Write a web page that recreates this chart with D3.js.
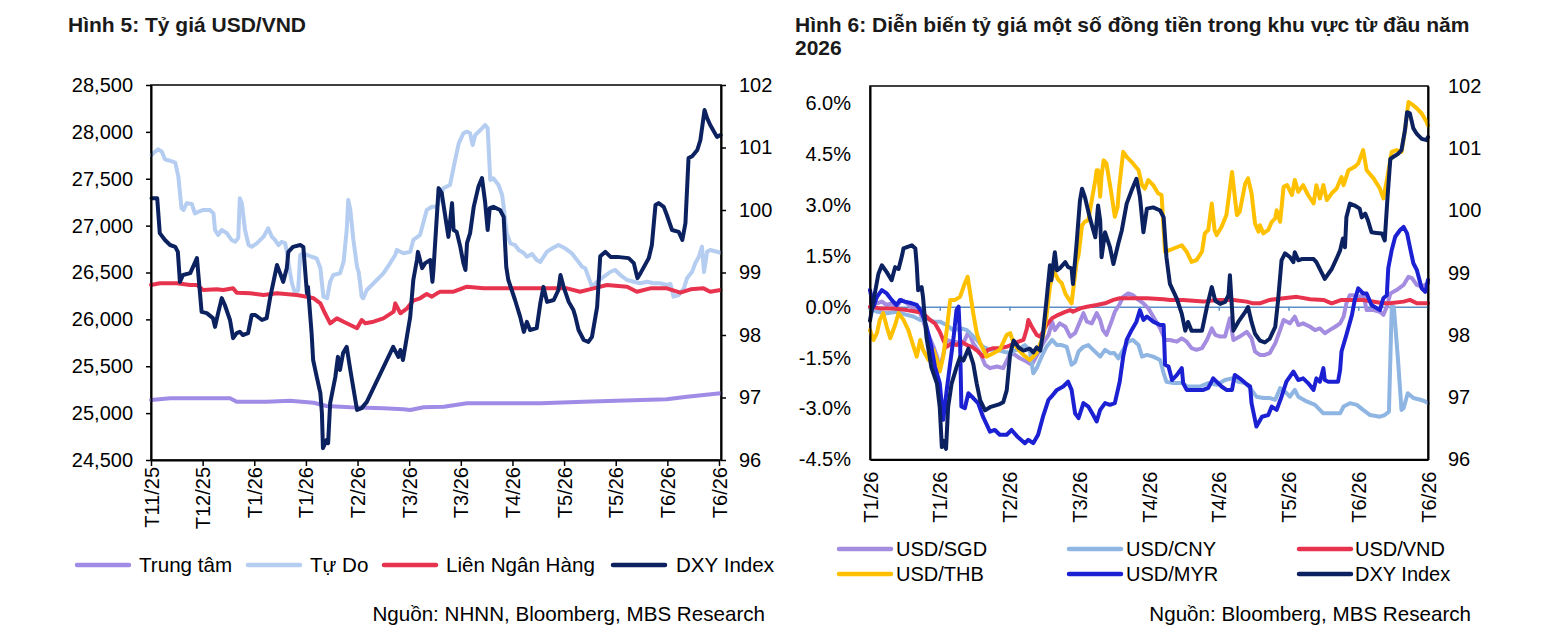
<!DOCTYPE html>
<html>
<head>
<meta charset="utf-8">
<script src="https://cdn.jsdelivr.net/npm/d3@7"></script>
<style>
  body { margin: 0; background: #fff; }
  text { font-family: Arial, "Liberation Sans", sans-serif; }
  text.title { font-weight: bold; fill: #1a1a1a; }
</style>
</head>
<body>
<svg id="chart" width="1547" height="642"></svg>
<script>
// ---- Hình 5 data: x = position in tick intervals ----
const leftTicks = ['T11/25', 'T12/25', 'T1/26', 'T1/26', 'T2/26', 'T3/26', 'T3/26', 'T4/26', 'T5/26', 'T5/26', 'T6/26', 'T6/26'];

const trungTam = [[0,25140],[0.37,25158],[0.95,25158],[1.53,25158],[1.66,25122],[2.24,25122],[2.69,25132],[3.15,25111],[3.4,25076],[3.86,25062],[4.5,25051],[4.89,25041],[5.02,25033],[5.28,25062],[5.67,25069],[6.12,25105],[6.76,25105],[7.54,25105],[8.38,25122],[9.02,25132],[9.99,25147],[10.38,25175],[11.03,25211]];

const tuDo = [[0.01,27753],[0.08,27789],[0.14,27814],[0.21,27789],[0.27,27707],[0.37,27692],[0.47,27671],[0.53,27522],[0.59,27185],[0.63,27167],[0.69,27238],[0.79,27231],[0.85,27131],[0.92,27148],[1.01,27167],[1.14,27167],[1.21,27131],[1.24,26953],[1.3,26900],[1.37,26953],[1.47,26918],[1.56,26847],[1.63,26828],[1.69,26868],[1.72,27291],[1.76,27238],[1.82,26953],[1.89,26793],[1.95,26775],[2.05,26811],[2.18,26882],[2.27,26971],[2.34,26882],[2.4,26847],[2.47,26793],[2.53,26828],[2.6,26811],[2.63,26722],[2.69,26508],[2.73,26385],[2.79,26278],[2.85,26313],[2.89,26687],[2.95,26705],[3.11,26668],[3.21,26651],[3.28,26545],[3.31,26385],[3.34,26242],[3.41,26225],[3.47,26402],[3.53,26473],[3.66,26491],[3.73,26615],[3.79,26953],[3.82,27273],[3.86,27167],[3.92,26847],[3.99,26562],[4.02,26508],[4.05,26385],[4.08,26242],[4.11,26225],[4.18,26313],[4.31,26385],[4.5,26491],[4.63,26598],[4.73,26687],[4.76,26740],[4.89,26705],[5.02,26722],[5.08,26847],[5.21,26900],[5.34,27167],[5.44,27202],[5.54,27202],[5.66,27398],[5.79,27433],[5.89,27700],[5.96,27878],[6.05,27985],[6.12,28002],[6.18,27985],[6.23,27860],[6.28,27967],[6.38,28020],[6.47,28073],[6.52,28038],[6.57,27487],[6.63,27505],[6.73,27433],[6.8,27327],[6.83,27202],[6.89,26918],[6.96,26811],[7.05,26793],[7.12,26740],[7.22,26708],[7.28,26668],[7.38,26697],[7.47,26633],[7.54,26612],[7.6,26665],[7.67,26722],[7.77,26758],[7.89,26793],[8.02,26758],[8.15,26705],[8.25,26633],[8.35,26562],[8.41,26545],[8.54,26349],[8.64,26402],[8.77,26455],[8.9,26508],[8.99,26527],[9.09,26473],[9.22,26420],[9.35,26402],[9.48,26385],[9.61,26402],[9.73,26385],[9.86,26385],[9.99,26367],[10.06,26377],[10.12,26242],[10.22,26260],[10.32,26331],[10.38,26438],[10.48,26508],[10.54,26598],[10.61,26668],[10.67,26775],[10.71,26505],[10.77,26722],[10.83,26740],[10.96,26722],[11.03,26711]];

const lienNganHang = [[0,26367],[0.17,26385],[0.5,26385],[0.76,26367],[0.89,26367],[1.01,26313],[1.27,26321],[1.4,26313],[1.59,26331],[1.66,26285],[1.92,26278],[2.18,26260],[2.44,26278],[2.82,26260],[3.02,26242],[3.15,26225],[3.28,26171],[3.37,26065],[3.47,25958],[3.6,26011],[3.73,25975],[3.86,25940],[3.99,25905],[4.08,25993],[4.15,25958],[4.31,25975],[4.5,26011],[4.7,26082],[4.73,26171],[4.83,26065],[4.96,26118],[5.08,26201],[5.21,26225],[5.34,26271],[5.44,26242],[5.54,26278],[5.6,26295],[5.86,26295],[6.12,26349],[6.44,26331],[6.96,26331],[7.41,26331],[8.06,26331],[8.31,26295],[8.57,26331],[8.83,26367],[9.22,26349],[9.41,26295],[9.67,26331],[9.99,26331],[10.25,26285],[10.45,26321],[10.7,26331],[10.83,26295],[11.03,26313]];

const dxyLeft = [[0.01,100.19],[0.12,100.19],[0.17,99.63],[0.27,99.52],[0.37,99.44],[0.47,99.41],[0.52,99.33],[0.56,98.85],[0.62,98.96],[0.76,98.99],[0.89,99.23],[0.98,98.37],[1.08,98.35],[1.2,98.27],[1.24,98.13],[1.3,98.35],[1.37,98.59],[1.43,98.48],[1.53,98.24],[1.59,97.95],[1.66,98.03],[1.72,98.05],[1.78,98],[1.88,98.03],[1.95,98.32],[2.02,98.32],[2.15,98.24],[2.24,98.27],[2.31,98.61],[2.44,99.12],[2.5,98.99],[2.56,98.85],[2.63,99.07],[2.66,99.33],[2.75,99.41],[2.89,99.44],[2.95,99.41],[2.98,99.09],[3.02,98.67],[3.04,98.77],[3.11,98.03],[3.14,97.6],[3.21,97.33],[3.28,97.07],[3.31,96.75],[3.33,96.19],[3.4,96.32],[3.43,96.27],[3.47,96.91],[3.57,97.33],[3.62,97.65],[3.66,97.44],[3.72,97.71],[3.79,97.81],[3.86,97.44],[3.99,96.8],[4.08,96.83],[4.18,96.93],[4.69,97.81],[4.79,97.65],[4.83,97.76],[4.88,97.6],[5.02,98.29],[5.08,98.88],[5.15,99.2],[5.17,99.33],[5.25,99.07],[5.31,99.15],[5.41,99.2],[5.45,98.85],[5.47,99.04],[5.57,100.35],[5.63,100.27],[5.76,99.57],[5.83,100.11],[5.86,99.68],[5.92,99.65],[5.99,99.41],[6.05,99.15],[6.09,99.04],[6.12,99.47],[6.18,99.63],[6.25,100.05],[6.34,100.37],[6.41,100.51],[6.47,100.13],[6.52,99.68],[6.56,100.03],[6.63,100.05],[6.76,100],[6.83,99.89],[6.88,99.09],[6.92,98.88],[7.05,98.56],[7.15,98.29],[7.22,98.05],[7.28,98.21],[7.34,98.08],[7.47,98.11],[7.54,98.51],[7.6,98.77],[7.67,98.53],[7.8,98.56],[7.89,98.72],[7.93,98.96],[7.99,98.77],[8.09,98.53],[8.18,98.4],[8.22,98.29],[8.28,98.08],[8.38,97.92],[8.47,97.89],[8.54,97.97],[8.64,98.45],[8.7,99.26],[8.8,99.33],[8.9,99.25],[9.03,99.25],[9.25,99.23],[9.35,99.15],[9.42,98.91],[9.48,98.99],[9.64,99.23],[9.7,99.44],[9.77,100.08],[9.83,100.11],[9.93,100.05],[9.99,99.92],[10.09,99.68],[10.22,99.65],[10.29,99.52],[10.35,99.79],[10.41,100.83],[10.48,100.86],[10.58,100.96],[10.64,101.12],[10.72,101.6],[10.77,101.47],[10.83,101.36],[10.96,101.17],[11.03,101.2]];

// ---- Hình 6 data: % change since start of 2026 (left axis), DXY level (right axis) ----
const rightTicks = ['T1/26', 'T1/26', 'T2/26', 'T3/26', 'T4/26', 'T4/26', 'T5/26', 'T6/26', 'T6/26'];

const usdSgd = [[0,0],[0.1,0.1],[0.17,0.15],[0.24,0.05],[0.31,0.1],[0.38,0],[0.45,0.2],[0.53,0.1],[0.62,-0.05],[0.72,-0.19],[0.81,-0.69],[0.91,-1.18],[0.96,-1.47],[1,-1.81],[1.05,-1.42],[1.1,-0.98],[1.17,-1.03],[1.24,-1.04],[1.31,-1.13],[1.36,-0.98],[1.41,-0.74],[1.48,-1.08],[1.58,-1.37],[1.65,-1.71],[1.72,-1.81],[1.82,-1.76],[1.91,-1.81],[2.01,-1.37],[2.08,-1.42],[2.15,-1.52],[2.25,-1.62],[2.32,-1.71],[2.41,-1.37],[2.48,-1.08],[2.56,-0.83],[2.61,-0.44],[2.65,-0.69],[2.72,-0.49],[2.8,-0.59],[2.87,-0.88],[2.94,-0.78],[3.01,-0.44],[3.06,-0.19],[3.11,-0.44],[3.18,-0.49],[3.25,-0.19],[3.3,-0.39],[3.34,-0.69],[3.39,-0.83],[3.47,-0.39],[3.51,-0.15],[3.58,0.08],[3.63,0.29],[3.7,0.39],[3.77,0.34],[3.85,0.2],[3.92,0.1],[3.99,-0.05],[4.06,-0.29],[4.16,-0.64],[4.23,-0.98],[4.3,-0.98],[4.4,-1.03],[4.47,-0.93],[4.54,-1.03],[4.61,-1.22],[4.68,-1.27],[4.76,-1.22],[4.83,-0.98],[4.9,-0.64],[4.95,-0.83],[5.02,-0.88],[5.09,-0.88],[5.16,-0.34],[5.21,-0.98],[5.3,-0.88],[5.4,-0.74],[5.47,-0.93],[5.52,-1.32],[5.59,-1.42],[5.66,-1.42],[5.73,-1.37],[5.81,-1.08],[5.88,-0.69],[5.93,-0.39],[6.02,-0.49],[6.09,-0.29],[6.14,-0.54],[6.21,-0.49],[6.31,-0.59],[6.38,-0.69],[6.45,-0.64],[6.52,-0.78],[6.59,-0.69],[6.67,-0.59],[6.74,-0.49],[6.79,-0.29],[6.83,0.1],[6.88,0.34],[6.93,0.34],[7,0.25],[7.07,0.39],[7.12,-0.1],[7.22,-0.1],[7.31,-0.15],[7.36,-0.24],[7.41,0],[7.46,0.39],[7.55,0.49],[7.65,0.64],[7.72,0.88],[7.77,0.84],[7.84,0.64],[7.91,0.59],[8,0.69]];

const usdCny = [[0,-0.05],[0.1,-0.15],[0.24,-0.19],[0.38,-0.15],[0.53,-0.24],[0.62,-0.29],[0.72,-0.39],[0.81,-0.34],[0.91,-0.44],[1,-0.44],[1.1,-0.54],[1.19,-0.69],[1.31,-0.64],[1.39,-0.69],[1.46,-0.83],[1.53,-0.98],[1.62,-1.18],[1.72,-1.27],[1.82,-1.27],[1.91,-1.32],[2.01,-1.37],[2.05,-1.32],[2.15,-1.22],[2.22,-1.13],[2.29,-1.27],[2.34,-1.96],[2.39,-1.81],[2.46,-1.47],[2.53,-1.18],[2.61,-0.98],[2.68,-1.13],[2.75,-1.13],[2.82,-1.18],[2.89,-1.71],[2.94,-1.63],[2.99,-1.32],[3.06,-1.18],[3.13,-1.13],[3.2,-1.27],[3.3,-1.47],[3.37,-1.27],[3.44,-1.37],[3.5,-1.36],[3.56,-1.52],[3.63,-1.27],[3.7,-1.03],[3.77,-0.98],[3.85,-1.13],[3.9,-1.47],[3.97,-1.42],[4.06,-1.47],[4.16,-1.57],[4.21,-1.96],[4.25,-2.21],[4.35,-2.25],[4.49,-2.25],[4.54,-2.35],[4.73,-2.35],[4.85,-2.25],[4.97,-2.3],[5.09,-2.16],[5.19,-2.11],[5.28,-2.21],[5.38,-2.25],[5.45,-2.4],[5.54,-2.65],[5.64,-2.69],[5.73,-2.69],[5.81,-2.74],[5.88,-2.4],[5.95,-2.5],[6.02,-2.65],[6.09,-2.45],[6.14,-2.65],[6.26,-2.79],[6.38,-2.89],[6.5,-3.14],[6.62,-3.14],[6.74,-3.14],[6.79,-2.94],[6.88,-2.84],[6.98,-2.89],[7.07,-3.04],[7.17,-3.19],[7.31,-3.24],[7.38,-3.19],[7.44,-3.09],[7.48,0],[7.51,0],[7.57,-1.57],[7.62,-3.04],[7.65,-2.99],[7.71,-2.55],[7.79,-2.69],[7.89,-2.74],[7.96,-2.79],[8,-2.84]];

const usdVnd = [[0,0],[0.14,-0.05],[0.33,-0.05],[0.53,-0.1],[0.67,-0.15],[0.76,-0.19],[0.86,-0.39],[0.93,-0.49],[1,-0.74],[1.05,-0.98],[1.1,-1.18],[1.17,-1.08],[1.24,-1.13],[1.31,-1.03],[1.39,-1.13],[1.46,-1.18],[1.55,-1.32],[1.62,-1.47],[1.69,-1.27],[1.77,-1.22],[1.86,-1.22],[1.96,-1.18],[2.13,-1.03],[2.2,-0.98],[2.25,-0.64],[2.27,-0.39],[2.32,-0.59],[2.39,-0.83],[2.44,-0.88],[2.48,-0.74],[2.53,-0.54],[2.61,-0.34],[2.7,-0.24],[2.8,-0.15],[2.87,-0.1],[2.91,-0.15],[3.01,-0.05],[3.11,0],[3.25,0.05],[3.37,0.1],[3.49,0.2],[3.58,0.25],[3.77,0.25],[3.97,0.25],[4.21,0.22],[4.3,0.2],[4.49,0.2],[4.78,0.15],[4.97,0.2],[5.21,0.2],[5.4,0.15],[5.49,0.1],[5.59,0.1],[5.73,0.2],[5.93,0.25],[6.12,0.29],[6.31,0.22],[6.5,0.2],[6.62,0.1],[6.76,0.2],[6.88,0.2],[7.07,0.2],[7.36,0.1],[7.45,0.1],[7.65,0.15],[7.74,0.2],[7.84,0.1],[8,0.1]];

const usdThb = [[0,-0.69],[0.05,-0.98],[0.1,-0.78],[0.14,-0.39],[0.19,-0.19],[0.24,-0.59],[0.29,-0.93],[0.36,-0.54],[0.41,-0.19],[0.48,-0.39],[0.55,-0.69],[0.67,-1.47],[0.72,-0.98],[0.76,-1.27],[0.84,-1.57],[0.91,-1.27],[0.96,-1.57],[1,-1.91],[1.05,-1.47],[1.1,-0.69],[1.15,0.2],[1.22,0.2],[1.29,0.29],[1.36,0.69],[1.4,0.88],[1.43,0.49],[1.48,-0.19],[1.53,-0.78],[1.58,-1.08],[1.65,-1.37],[1.67,-1.47],[1.77,-1.37],[1.86,-1.27],[1.96,-0.83],[2.01,-0.78],[2.06,-1.08],[2.13,-1.27],[2.2,-1.42],[2.29,-1.57],[2.34,-1.47],[2.39,-1.36],[2.48,-0.88],[2.53,-0.29],[2.58,0.59],[2.63,1.08],[2.7,0.79],[2.75,0.69],[2.8,0.39],[2.84,0.25],[2.89,0.1],[2.96,1.28],[2.99,1.52],[3.04,2.4],[3.08,2.5],[3.13,2.55],[3.18,3.14],[3.23,3.73],[3.25,4.02],[3.27,4.02],[3.3,3.24],[3.32,3.87],[3.35,4.31],[3.39,4.22],[3.46,3.34],[3.51,2.65],[3.55,2.94],[3.57,3.48],[3.63,4.56],[3.68,4.41],[3.77,4.22],[3.85,4.02],[3.9,3.58],[3.94,3.48],[3.99,3.73],[4.06,3.58],[4.13,3.34],[4.18,3.29],[4.23,1.62],[4.3,1.67],[4.47,1.81],[4.54,1.62],[4.61,1.32],[4.68,1.37],[4.76,1.62],[4.8,2.16],[4.85,2.26],[4.9,3.04],[4.94,2.26],[4.97,2.11],[5.04,2.35],[5.11,2.7],[5.19,3.97],[5.26,2.7],[5.3,2.79],[5.38,3.63],[5.42,3.78],[5.47,3.34],[5.52,2.45],[5.57,2.21],[5.59,2.4],[5.64,2.16],[5.71,2.26],[5.76,2.5],[5.81,2.6],[5.83,2.84],[5.88,2.5],[5.93,3.53],[5.98,3.58],[6.05,3.29],[6.09,3.73],[6.14,3.38],[6.21,3.58],[6.28,3.29],[6.36,3.04],[6.4,3.58],[6.45,3.19],[6.5,3.58],[6.55,3.14],[6.62,3.34],[6.69,3.48],[6.76,3.82],[6.79,3.58],[6.86,4.02],[6.95,4.12],[7,4.22],[7.07,4.61],[7.12,4.02],[7.22,3.78],[7.31,3.48],[7.36,3.19],[7.41,3.73],[7.48,4.56],[7.55,4.61],[7.62,4.56],[7.67,5.2],[7.72,6.03],[7.77,5.96],[7.84,5.84],[7.91,5.69],[7.98,5.44],[8,5.34]];

const usdMyr = [[0,0.49],[0.05,0],[0.1,0.29],[0.17,0.49],[0.24,0.39],[0.31,0.2],[0.38,0.05],[0.43,0.2],[0.5,0.15],[0.6,0.1],[0.67,0.05],[0.74,-0.15],[0.81,-0.59],[0.88,-1.18],[0.93,-1.76],[1,-2.25],[1.05,-3.33],[1.1,-2.45],[1.15,-1.66],[1.2,-0.88],[1.24,-0.1],[1.27,0],[1.29,-0.88],[1.31,-2.94],[1.36,-2.99],[1.41,-2.55],[1.48,-2.69],[1.55,-2.84],[1.62,-3.24],[1.72,-3.68],[1.79,-3.63],[1.86,-3.77],[1.96,-3.77],[2.03,-3.63],[2.11,-3.82],[2.22,-4.02],[2.27,-3.92],[2.34,-4.02],[2.41,-3.77],[2.48,-3.24],[2.56,-2.74],[2.6,-2.65],[2.68,-2.45],[2.77,-2.35],[2.84,-2.21],[2.89,-2.45],[2.94,-3.14],[2.99,-3.28],[3.06,-2.84],[3.13,-2.94],[3.2,-3.19],[3.25,-3.38],[3.3,-3.04],[3.37,-2.84],[3.44,-2.89],[3.51,-2.84],[3.58,-2.21],[3.63,-1.47],[3.68,-0.98],[3.75,-0.69],[3.82,-0.44],[3.87,-0.1],[3.92,-0.39],[3.97,-0.29],[4.06,-0.44],[4.16,-0.54],[4.21,-0.54],[4.23,-1.71],[4.28,-1.76],[4.33,-2.16],[4.4,-2.01],[4.47,-1.81],[4.49,-2.25],[4.54,-2.45],[4.78,-2.45],[4.85,-2.39],[4.92,-2.11],[5.04,-2.35],[5.11,-2.45],[5.19,-2.45],[5.23,-2.01],[5.3,-2.11],[5.38,-2.25],[5.45,-2.35],[5.47,-2.84],[5.54,-3.53],[5.62,-3.24],[5.71,-3.19],[5.76,-2.94],[5.83,-3.04],[5.9,-2.65],[5.97,-2.21],[6.07,-1.91],[6.14,-2.16],[6.21,-2.11],[6.28,-2.25],[6.36,-2.45],[6.4,-2.11],[6.45,-2.21],[6.5,-1.81],[6.52,-2.16],[6.57,-2.21],[6.71,-2.21],[6.74,-1.86],[6.76,-1.32],[6.83,-0.83],[6.91,-0.24],[6.95,0.2],[7,0.54],[7.07,0.39],[7.12,0.39],[7.19,0.05],[7.31,-0.1],[7.36,0.25],[7.41,0.34],[7.43,1.13],[7.48,1.67],[7.53,2.06],[7.6,2.26],[7.65,2.35],[7.7,2.16],[7.74,1.76],[7.79,1.28],[7.84,1.08],[7.91,0.54],[7.96,0.44],[7.98,0.59],[8,0.79]];

const dxyRight = [[0,98.23],[0.05,98.55],[0.12,98.98],[0.17,99.12],[0.24,99.01],[0.31,98.88],[0.36,99.09],[0.41,99.06],[0.46,99.28],[0.48,99.39],[0.6,99.44],[0.65,99.39],[0.67,99.12],[0.69,98.72],[0.74,98.77],[0.76,98.61],[0.81,97.96],[0.88,97.48],[0.96,97.22],[1,96.84],[1.03,96.2],[1.05,96.3],[1.09,96.17],[1.12,96.84],[1.17,97.22],[1.24,97.48],[1.29,97.64],[1.34,97.59],[1.41,97.78],[1.48,97.54],[1.53,97.22],[1.58,96.95],[1.65,96.79],[1.72,96.84],[1.86,96.89],[1.91,96.92],[1.96,97.11],[2.01,97.7],[2.06,97.91],[2.13,97.8],[2.2,97.75],[2.29,97.78],[2.34,97.72],[2.39,97.8],[2.44,97.75],[2.48,98.02],[2.53,98.55],[2.58,99.12],[2.6,98.88],[2.65,99.33],[2.68,99.04],[2.72,99.07],[2.8,99.17],[2.84,99.09],[2.89,99.07],[2.91,98.82],[2.96,99.44],[3.01,100.16],[3.04,100.35],[3.08,100.22],[3.15,99.89],[3.23,99.57],[3.27,100.08],[3.3,99.84],[3.32,99.25],[3.37,99.65],[3.44,99.41],[3.49,99.14],[3.56,99.47],[3.61,99.68],[3.68,100.11],[3.75,100.32],[3.82,100.51],[3.87,100.22],[3.92,99.65],[3.97,100.03],[4.06,100.05],[4.16,100],[4.21,99.89],[4.25,99.25],[4.3,98.82],[4.4,98.58],[4.47,98.34],[4.52,98.07],[4.56,98.21],[4.61,98.07],[4.76,98.07],[4.83,98.45],[4.9,98.77],[4.95,98.55],[5.02,98.5],[5.09,98.53],[5.14,98.64],[5.16,98.96],[5.21,98.07],[5.28,98.21],[5.38,98.37],[5.42,98.45],[5.47,98.21],[5.52,98.02],[5.59,97.91],[5.66,97.88],[5.73,97.94],[5.81,98.13],[5.85,98.55],[5.9,99.2],[5.95,99.31],[6.02,99.25],[6.07,99.17],[6.09,99.33],[6.14,99.2],[6.19,99.22],[6.36,99.22],[6.4,99.17],[6.52,98.9],[6.62,99.06],[6.69,99.23],[6.74,99.36],[6.78,99.55],[6.81,99.41],[6.83,99.89],[6.88,100.11],[6.95,100.08],[7.02,100.03],[7.05,99.89],[7.1,99.95],[7.14,99.84],[7.19,99.65],[7.26,99.64],[7.34,99.63],[7.38,99.52],[7.42,100.22],[7.46,100.83],[7.5,100.86],[7.57,100.91],[7.62,100.97],[7.67,101.29],[7.7,101.58],[7.74,101.56],[7.79,101.32],[7.84,101.23],[7.91,101.15],[7.98,101.13],[8,101.18]];

const C = {
    trungTam: '#a08ce6', tuDo: '#b4cdf0', red: '#e8334f', navy: '#0b2160',
    sgd: '#a48ce0', cny: '#8fb5e3', thb: '#ffc000', myr: '#1b20d2', zero: '#5b8ec9'
};

const svg = d3.select('#chart');

function drawPanel(cfg) {
    const g = svg.append('g');
    const { left, right, top, bottom } = cfg.box;

    const x = d3.scaleLinear().domain([0, cfg.ticks.length - 1]).range([left, cfg.lastTickX]);
    const yL = d3.scaleLinear().domain(cfg.yL).range([bottom, top]);
    const yR = d3.scaleLinear().domain(cfg.yR).range([bottom, top]);

    // plot frame
    g.append('rect')
        .attr('x', left).attr('y', top)
        .attr('width', right - left).attr('height', bottom - top)
        .attr('fill', 'none').attr('stroke', '#000').attr('stroke-width', 1.5);

    // zero line (right panel)
    if (cfg.zeroLine) {
        const z = g.append('g')
            .attr('transform', `translate(0,${yL(0)})`)
            .call(d3.axisBottom(x).tickValues(d3.range(cfg.ticks.length)).tickSize(4).tickSizeOuter(0).tickFormat(''));
        z.select('.domain').attr('stroke', C.zero).attr('stroke-width', 1.5);
        z.selectAll('.tick line').attr('stroke', C.zero).attr('stroke-width', 1.5);
    }

    // series
    cfg.series.forEach(s => {
        const y = s.axis === 'R' ? yR : yL;
        g.append('path')
            .datum(s.data)
            .attr('fill', 'none')
            .attr('stroke', s.color)
            .attr('stroke-width', 4)
            .attr('stroke-linejoin', 'round')
            .attr('stroke-linecap', 'round')
            .attr('d', d3.line().x(d => x(d[0])).y(d => y(d[1])));
    });

    // axes
    const ax = [];
    ax.push(g.append('g').attr('transform', `translate(${left},0)`)
        .call(d3.axisLeft(yL).tickValues(cfg.yLTicks).tickFormat(cfg.yLFormat)
            .tickSize(cfg.yTickSize).tickSizeOuter(0).tickPadding(cfg.yLPad)));
    ax.push(g.append('g').attr('transform', `translate(${right},0)`)
        .call(d3.axisRight(yR).tickValues(cfg.yRTicks).tickFormat(d3.format('d'))
            .tickSize(cfg.yTickSize).tickSizeOuter(0).tickPadding(cfg.yRPad)));
    const gx = g.append('g').attr('transform', `translate(0,${bottom})`)
        .call(d3.axisBottom(x).tickValues(d3.range(cfg.ticks.length))
            .tickFormat((d, i) => cfg.ticks[i]).tickSize(cfg.xTickSize).tickSizeOuter(0));
    ax.push(gx);

    ax.forEach(a => {
        a.select('.domain').attr('stroke', '#000').attr('stroke-width', 2);
        a.selectAll('.tick line').attr('stroke', '#000').attr('stroke-width', 1.5);
        a.selectAll('text').attr('fill', '#000').style('font-size', '20px');
    });

    gx.selectAll('text')
        .attr('transform', 'rotate(-90)')
        .attr('text-anchor', 'end')
        .attr('x', -cfg.xLabelOff)
        .attr('y', 0)
        .attr('dy', '0.35em');

    // titles
    cfg.title.forEach((t, i) => {
        svg.append('text')
            .attr('class', 'title')
            .attr('x', cfg.titleX).attr('y', 32 + i * 23)
            .style('font-size', '21px')
            .text(t);
    });

    // legend
    cfg.legend.forEach(l => {
        svg.append('line')
            .attr('x1', l.x).attr('x2', l.x + 52)
            .attr('y1', l.y).attr('y2', l.y)
            .attr('stroke', l.color).attr('stroke-width', 4.5).attr('stroke-linecap', 'round');
        svg.append('text')
            .attr('x', l.x + l.gap).attr('y', l.y).attr('dy', '0.35em')
            .style('font-size', cfg.legendSize)
            .text(l.name);
    });

    svg.append('text')
        .attr('x', cfg.sourceX).attr('y', 621)
        .attr('text-anchor', 'end')
        .style('font-size', '20.6px')
        .text(cfg.source);
}

drawPanel({
    box: { left: 151, right: 721, top: 85, bottom: 460 },
    lastTickX: 719,
    ticks: leftTicks,
    yL: [24500, 28500], yLTicks: d3.range(24500, 28501, 500), yLFormat: d3.format(','),
    yR: [96, 102], yRTicks: d3.range(96, 103),
    yTickSize: 5, yLPad: 13, yRPad: 13, xTickSize: 6, xLabelOff: 7,
    series: [
        { data: trungTam, color: C.trungTam, axis: 'L' },
        { data: tuDo, color: C.tuDo, axis: 'L' },
        { data: lienNganHang, color: C.red, axis: 'L' },
        { data: dxyLeft, color: C.navy, axis: 'R' }
    ],
    title: ['Hình 5: Tỷ giá USD/VND'], titleX: 68,
    legendSize: '20.6px',
    legend: [
        { name: 'Trung tâm', color: C.trungTam, x: 77, y: 565, gap: 62 },
        { name: 'Tự Do', color: C.tuDo, x: 248, y: 565, gap: 62 },
        { name: 'Liên Ngân Hàng', color: C.red, x: 384, y: 565, gap: 62 },
        { name: 'DXY Index', color: C.navy, x: 613, y: 565, gap: 63 }
    ],
    source: 'Nguồn: NHNN, Bloomberg, MBS Research', sourceX: 765
});

drawPanel({
    box: { left: 870, right: 1428, top: 86, bottom: 459.5 },
    lastTickX: 1428,
    ticks: rightTicks,
    yL: [-4.5, 6.5], yLTicks: d3.range(-4.5, 6.01, 1.5), yLFormat: d => d.toFixed(1) + '%',
    yR: [96, 102], yRTicks: d3.range(96, 103),
    yTickSize: 0, yLPad: 19, yRPad: 20, xTickSize: 0, xLabelOff: 12,
    zeroLine: true,
    series: [
        { data: usdSgd, color: C.sgd, axis: 'L' },
        { data: usdCny, color: C.cny, axis: 'L' },
        { data: usdVnd, color: C.red, axis: 'L' },
        { data: usdThb, color: C.thb, axis: 'L' },
        { data: usdMyr, color: C.myr, axis: 'L' },
        { data: dxyRight, color: C.navy, axis: 'R' }
    ],
    title: ['Hình 6: Diễn biến tỷ giá một số đồng tiền trong khu vực từ đầu năm', '2026'], titleX: 795,
    legendSize: '20px',
    legend: [
        { name: 'USD/SGD', color: C.sgd, x: 839, y: 549, gap: 57 },
        { name: 'USD/CNY', color: C.cny, x: 1069, y: 549, gap: 57 },
        { name: 'USD/VND', color: C.red, x: 1299, y: 549, gap: 56 },
        { name: 'USD/THB', color: C.thb, x: 839, y: 574, gap: 57 },
        { name: 'USD/MYR', color: C.myr, x: 1069, y: 574, gap: 57 },
        { name: 'DXY Index', color: C.navy, x: 1299, y: 574, gap: 56 }
    ],
    source: 'Nguồn: Bloomberg, MBS Research', sourceX: 1471
});
</script>
</body>
</html>
